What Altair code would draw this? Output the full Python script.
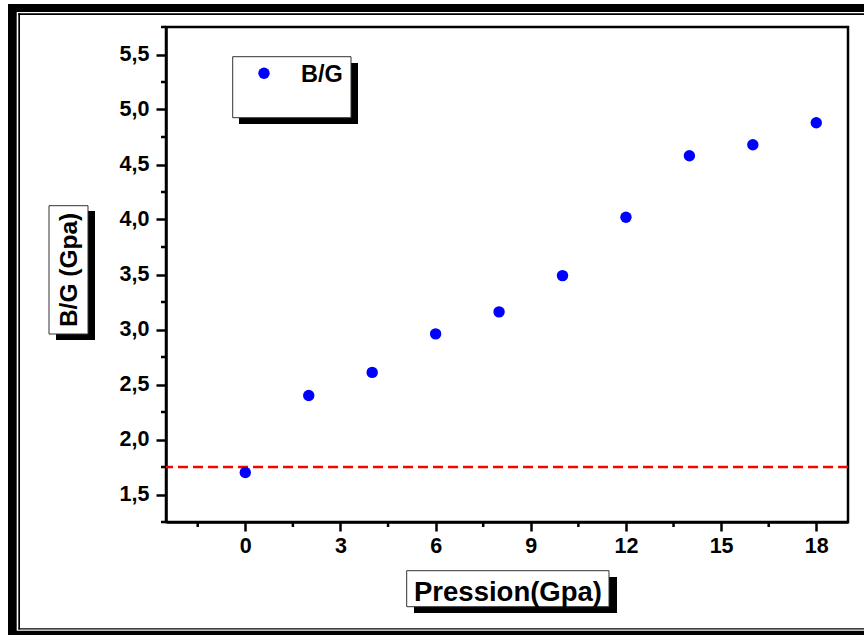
import altair as alt
import pandas as pd

# Pugh ratio B/G against pressure
pressure = [0, 2, 4, 6, 8, 10, 12, 14, 16, 18]
b_over_g = [1.70, 2.40, 2.61, 2.96, 3.16, 3.49, 4.02, 4.58, 4.68, 4.88]
pugh_limit = 1.75

series_name = "B/G"
x_title = "Pression(Gpa)"
y_title = "B/G (Gpa)"

x_major = [0, 3, 6, 9, 12, 15, 18]
x_minor = [-1.5, 1.5, 4.5, 7.5, 10.5, 13.5, 16.5]
y_major = [1.5, 2.0, 2.5, 3.0, 3.5, 4.0, 4.5, 5.0, 5.5]
y_minor = [1.25, 1.75, 2.25, 2.75, 3.25, 3.75, 4.25, 4.75, 5.25, 5.75]

FONT = "Liberation Sans"
W, H = 682, 495

df = pd.DataFrame({"p": pressure, "bg": b_over_g})
one = pd.DataFrame({"k": [0]})

x_scale = alt.Scale(domain=[-2.5, 19], nice=False, zero=False)
y_scale = alt.Scale(domain=[1.25, 5.75], nice=False, zero=False)

x_axis = alt.Axis(
    values=x_major, title=None, grid=False, format="d",
    domainColor="black", domainWidth=2.5, tickColor="black", tickWidth=2.5,
    tickSize=9, labelFont=FONT, labelFontSize=21.5, labelFontWeight="bold",
    labelColor="black", labelPadding=4, labelFlush=False,
)
y_axis = alt.Axis(
    values=y_major, title=None, grid=False,
    labelExpr="replace(format(datum.value, '.1f'), '.', ',')",
    domainColor="black", domainWidth=2.5, tickColor="black", tickWidth=2.5,
    tickSize=10, labelFont=FONT, labelFontSize=21.5, labelFontWeight="bold",
    labelColor="black", labelPadding=7, labelFlush=False,
)


def rect(x, x2, y, y2, fill, stroke=None, sw=0):
    kw = dict(fill=fill, strokeWidth=sw)
    if stroke:
        kw["stroke"] = stroke
    return alt.Chart(one).mark_rect(**kw).encode(
        x=alt.value(x), x2=alt.value(x2), y=alt.value(y), y2=alt.value(y2)
    )


# outer double frame
frame = [
    rect(-158, -149.3, -23, 608, "black"),
    rect(-158, 698, -23, -15, "black"),
    rect(-158, 698, 603.7, 608, "black"),
    rect(-147.7, -146, -13.7, 602.5, "black"),
    rect(-147.7, 698, -13.7, -12, "black"),
    rect(-147.7, 698, 601.3, 602.5, "black"),
]

# boxed titles with drop shadows
title_boxes = [
    rect(248, 451, 550, 586, "black"),
    rect(240.7, 443, 543.7, 579.7, "white", "#333", 1),
    rect(-110, -71, 184, 313, "black"),
    rect(-117, -78, 178.7, 307, "white", "#333", 1),
    rect(73, 192, 36, 97, "black"),
    rect(66.7, 185, 29.7, 90.7, "white", "#333", 1),
]

x_title_text = alt.Chart(one).mark_text(
    font=FONT, fontSize=27.5, fontWeight="bold", color="black",
    align="center", baseline="alphabetic",
).encode(x=alt.value(342), y=alt.value(573.5), text=alt.value(x_title))

y_title_text = alt.Chart(one).mark_text(
    font=FONT, fontSize=24.5, fontWeight="bold", color="black",
    align="center", baseline="alphabetic", angle=270,
).encode(x=alt.value(-88.7), y=alt.value(242.9), text=alt.value(y_title))

legend_dot = alt.Chart(one).mark_point(
    filled=True, shape="circle", size=130, color="#0000ff", opacity=1
).encode(x=alt.value(98), y=alt.value(46.3))

legend_text = alt.Chart(one).mark_text(
    font=FONT, fontSize=23.5, fontWeight="bold", color="black",
    align="left", baseline="alphabetic",
).encode(x=alt.value(135), y=alt.value(54.5), text=alt.value(series_name))

# minor ticks
xm = alt.Chart(pd.DataFrame({"v": x_minor})).mark_rule(
    color="black", strokeWidth=2.5
).encode(
    x=alt.X("v:Q", scale=x_scale, axis=x_axis),
    y=alt.value(H), y2=alt.value(H + 5),
)
ym = alt.Chart(pd.DataFrame({"v": y_minor})).mark_rule(
    color="black", strokeWidth=2.5
).encode(
    y=alt.Y("v:Q", scale=y_scale, axis=y_axis),
    x=alt.value(-5), x2=alt.value(0),
)

pugh = alt.Chart(pd.DataFrame({"v": [pugh_limit]})).mark_rule(
    color="#ff0000", strokeWidth=2.5, strokeDash=[10, 5]
).encode(y=alt.Y("v:Q", scale=y_scale, axis=y_axis))

points = alt.Chart(df).mark_point(
    filled=True, shape="circle", size=130, color="#0000ff", opacity=1
).encode(
    x=alt.X("p:Q", scale=x_scale, axis=x_axis),
    y=alt.Y("bg:Q", scale=y_scale, axis=y_axis),
)

chart = alt.layer(
    *frame, *title_boxes, x_title_text, y_title_text, legend_dot, legend_text,
    xm, ym, pugh, points,
).properties(
    width=W, height=H,
    autosize=alt.AutoSizeParams(type="none"),
    padding={"left": 166, "top": 27, "right": 16, "bottom": 113},
    background="white",
).configure_view(stroke="black", strokeWidth=2.5)

chart.save("out.html", embed_options={"renderer": "svg", "actions": False})
